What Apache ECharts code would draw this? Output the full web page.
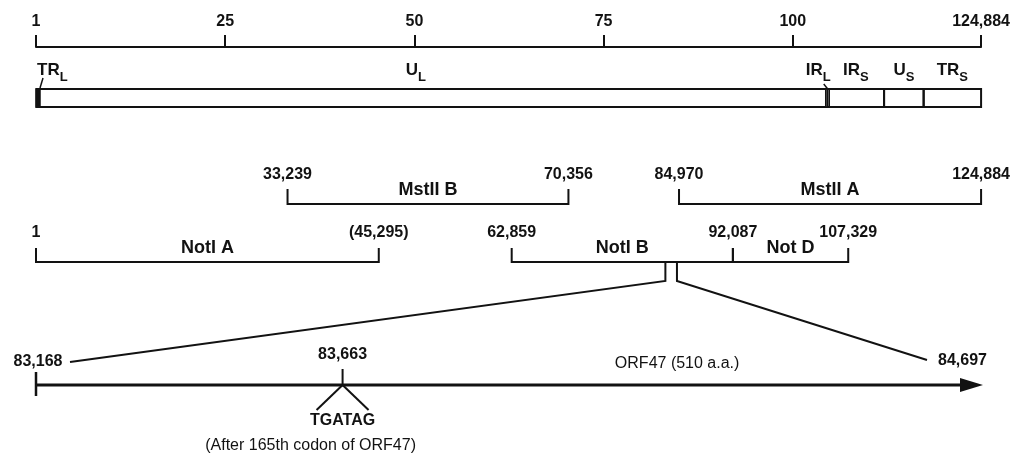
<!DOCTYPE html>
<html>
<head>
<meta charset="utf-8">
<script src="https://cdn.jsdelivr.net/npm/echarts@6/dist/echarts.min.js"></script>
<style>html,body{margin:0;padding:0;background:#fff}#c{width:1013px;height:461px}</style>
</head>
<body>
<div id="c"></div>
<script>
// ---------------- DATA ----------------
const genomeLength = 124884;
const scaleTicks = [1, 25000, 50000, 75000, 100000, 124884];
const scaleTickLabels = ['1', '25', '50', '75', '100', '124,884'];

const segmentNames = ['TR', 'U', 'IR', 'IR', 'U', 'TR'];
const segmentSubs = ['L', 'L', 'L', 'S', 'S', 'S'];
const segmentStart = [1, 89, 104490, 104578, 112066, 117294];
const segmentEnd = [88, 104489, 104577, 112065, 117293, 124884];

const fragmentNames = ['MstII B', 'MstII A', 'NotI A', 'NotI B', 'Not D'];
const fragmentRow = [0, 0, 1, 1, 1];
const fragmentStart = [33239, 84970, 1, 62859, 92087];
const fragmentEnd = [70356, 124884, 45295, 92087, 107329];
const fragmentStartLabels = ['33,239', '84,970', '1', '62,859', '92,087'];
const fragmentEndLabels = ['70,356', '124,884', '(45,295)', '', '107,329'];

const orfName = 'ORF47 (510 a.a.)';
const orfStart = 83168;
const orfEnd = 84697;
const orfStartLabel = '83,168';
const orfEndLabel = '84,697';
const stopSite = 83663;
const stopSiteLabel = '83,663';
const insertSeq = 'TGATAG';
const insertNote = '(After 165th codon of ORF47)';

// ---------------- LAYOUT / STYLE ----------------
const FONT = '"Liberation Sans", Arial, Helvetica, sans-serif';
const INK = '#121212';
const L = {
  boxTop: 89, boxH: 18, segLabelY: 73,
  rows: [
    { num: 175, name: 190, line: 204, tick: 189 },
    { num: 233, name: 248, line: 262, tick: 248 }
  ],
  dropBottom: 281,
  orfY: 385, orfTickTop: 372, orfTickBot: 396, arrowLen: 23, arrowHalf: 7,
  orfLabelY: 362, orfNameY: 364, orfNameFrac: 0.677,
  markTop: 369, legDx: 26, legDy: 25, markLabelY: 355, seqY: 421, noteY: 446, noteDx: -32
};
const U_L_ANCHOR_FRAC = 0.48; // label placement inside U_L

function T(text, x, y, size, align, extra) {
  return {
    type: 'text',
    style: Object.assign({
      text: text, x: x, y: y, fill: INK,
      fontSize: size, fontFamily: FONT, fontWeight: 'bold',
      align: align || 'center', verticalAlign: 'middle'
    }, extra || {})
  };
}
function line(x1, y1, x2, y2, w) {
  return { type: 'line', shape: { x1: x1, y1: y1, x2: x2, y2: y2 }, style: { stroke: INK, lineWidth: w || 2 } };
}

const chart = echarts.init(document.getElementById('c'));

function renderSegment(params, api) {
  const i = params.dataIndex;
  const x0 = api.coord([api.value(0), 0])[0];
  const x1 = api.coord([api.value(1), 0])[0];
  const children = [];
  const top = L.boxTop, h = L.boxH;
  if (i === 0) {
    children.push({ type: 'rect', shape: { x: x0, y: top, width: Math.max(x1 - x0, 4), height: h }, style: { fill: INK, stroke: INK, lineWidth: 1.5 } });
  } else if (i === 2) {
    children.push({ type: 'rect', shape: { x: x0 - 1, y: top, width: Math.max(x1 - x0, 3.5), height: h }, style: { fill: '#fff', stroke: INK, lineWidth: 1.5 } });
  } else {
    children.push({ type: 'rect', shape: { x: x0, y: top, width: x1 - x0, height: h }, style: { fill: null, stroke: INK, lineWidth: 2 } });
  }
  let ax, align;
  if (i === 0) { ax = x0 + 1; align = 'left'; }
  else if (i === 2) { ax = x0 + 4; align = 'right'; }
  else if (i === 1) { ax = x0 + (x1 - x0) * U_L_ANCHOR_FRAC; align = 'center'; }
  else { ax = (x0 + x1) / 2; align = 'center'; }
  children.push({
    type: 'text',
    style: {
      text: '{m|' + segmentNames[i] + '}{s|' + segmentSubs[i] + '}',
      x: ax, y: L.segLabelY, align: align, verticalAlign: 'middle',
      rich: {
        m: { fontSize: 17, fontFamily: FONT, fontWeight: 'bold', fill: INK, lineHeight: 22, verticalAlign: 'top' },
        s: { fontSize: 13, fontFamily: FONT, fontWeight: 'bold', fill: INK, lineHeight: 22, verticalAlign: 'bottom' }
      }
    }
  });
  if (i === 0) children.push(line(x0 + 7, 78, x0 + 4, top - 1, 1.5));
  if (i === 2) children.push(line(x0 - 3, 84, x0 + 1, top, 1.5));
  return { type: 'group', children: children };
}

function renderFragment(params, api) {
  const i = params.dataIndex;
  const r = L.rows[fragmentRow[i]];
  const x0 = api.coord([api.value(0), 0])[0];
  const x1 = api.coord([api.value(1), 0])[0];
  const children = [
    { type: 'polyline', shape: { points: [[x0, r.tick], [x0, r.line], [x1, r.line], [x1, r.tick]] }, style: { stroke: INK, lineWidth: 2, fill: null } },
    T(fragmentNames[i], (x0 + x1) / 2, r.name, 18)
  ];
  if (fragmentStartLabels[i]) children.push(T(fragmentStartLabels[i], x0, r.num, 16));
  if (fragmentEndLabels[i]) children.push(T(fragmentEndLabels[i], x1, r.num, 16));
  return { type: 'group', children: children };
}

function renderOrf(params, api) {
  const xs = api.coord([orfStart, 0])[0];
  const xe = api.coord([orfEnd, 0])[0];
  const y = L.orfY;
  let g0 = null, g1 = null;
  try {
    g0 = chart.convertToPixel({ xAxisIndex: 0 }, orfStart);
    g1 = chart.convertToPixel({ xAxisIndex: 0 }, orfEnd);
  } catch (e) { g0 = null; }
  const children = [
    line(xs, y, xe - L.arrowLen + 2, y, 3),
    line(xs, L.orfTickTop, xs, L.orfTickBot, 2.5),
    { type: 'polygon', shape: { points: [[xe - L.arrowLen, y - L.arrowHalf], [xe, y], [xe - L.arrowLen, y + L.arrowHalf]] }, style: { fill: INK } },
    T(orfStartLabel, xs + 2, L.orfLabelY, 16),
    T(orfEndLabel, xe + 4, L.orfLabelY - 1, 16, 'right'),
    T(orfName, xs + (xe - xs) * L.orfNameFrac, L.orfNameY, 16, 'center', { fontWeight: 'normal' })
  ];
  if (g0 !== null && isFinite(g0)) {
    const r = L.rows[1];
    children.push({ type: 'polyline', shape: { points: [[g0, r.line], [g0, L.dropBottom], [xs + 34, L.orfLabelY]] }, style: { stroke: INK, lineWidth: 2, fill: null } });
    children.push({ type: 'polyline', shape: { points: [[g1, r.line], [g1, L.dropBottom], [xe - 56, L.orfLabelY - 2]] }, style: { stroke: INK, lineWidth: 2, fill: null } });
  }
  return { type: 'group', children: children };
}

function renderStop(params, api) {
  const xm = api.coord([api.value(0), 0])[0];
  const y = L.orfY;
  return {
    type: 'group', children: [
      line(xm, L.markTop, xm, y, 2),
      line(xm, y, xm - L.legDx, y + L.legDy, 2),
      line(xm, y, xm + L.legDx, y + L.legDy, 2),
      T(stopSiteLabel, xm, L.markLabelY, 16),
      T(insertSeq, xm, L.seqY, 16),
      T(insertNote, xm + L.noteDx, L.noteY, 16, 'center', { fontWeight: 'normal' })
    ]
  };
}

const option = {
  animation: false,
  backgroundColor: '#fff',
  grid: [
    { left: 36, right: 29, top: 47, height: 10 },
    { left: 36, right: 30, top: 300, height: 10 }
  ],
  xAxis: [
    {
      type: 'value', gridIndex: 0, position: 'top', min: 1, max: genomeLength,
      axisLine: { show: true, onZero: false, lineStyle: { color: INK, width: 2 } },
      axisTick: { show: true, customValues: scaleTicks, length: 12, lineStyle: { color: INK, width: 2 } },
      axisLabel: {
        show: true, customValues: scaleTicks, margin: 17,
        formatter: function (v) { const k = scaleTicks.indexOf(v); return k >= 0 ? scaleTickLabels[k] : ''; },
        color: INK, fontSize: 16, fontWeight: 'bold', fontFamily: FONT
      },
      splitLine: { show: false }
    },
    { type: 'value', gridIndex: 1, min: orfStart, max: orfEnd, show: false }
  ],
  yAxis: [
    { type: 'value', gridIndex: 0, min: 0, max: 1, show: false },
    { type: 'value', gridIndex: 1, min: 0, max: 1, show: false }
  ],
  series: [
    { type: 'custom', xAxisIndex: 0, yAxisIndex: 0, renderItem: renderSegment, data: segmentStart.map((s, i) => [s, segmentEnd[i]]), silent: true },
    { type: 'custom', xAxisIndex: 0, yAxisIndex: 0, renderItem: renderFragment, data: fragmentStart.map((s, i) => [s, fragmentEnd[i]]), silent: true },
    { type: 'custom', xAxisIndex: 1, yAxisIndex: 1, renderItem: renderOrf, data: [[orfStart, orfEnd]], silent: true },
    { type: 'custom', xAxisIndex: 1, yAxisIndex: 1, renderItem: renderStop, data: [[stopSite]], silent: true }
  ]
};
chart.setOption(option);
chart.setOption(option);
</script>
</body>
</html>
